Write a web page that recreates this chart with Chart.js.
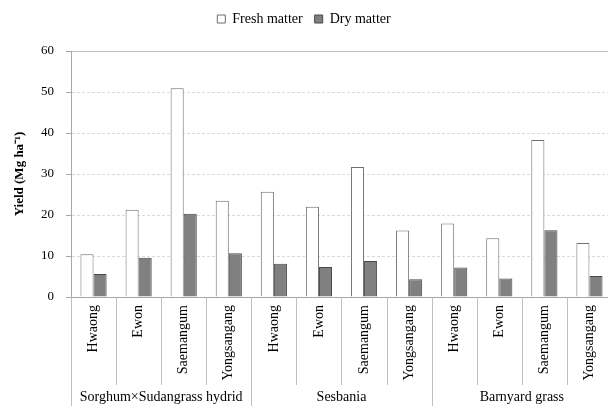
<!DOCTYPE html>
<html>
<head>
<title>Yield</title>
<script src="https://cdn.jsdelivr.net/npm/chart.js@4"></script>
<style>
  body { margin: 0; background: #fff; }
</style>
</head>
<body>
<canvas id="myChart" width="608" height="412"></canvas>
<script>
var categories = ['Hwaong', 'Ewon', 'Saemangum', 'Yongsangang',
                  'Hwaong', 'Ewon', 'Saemangum', 'Yongsangang',
                  'Hwaong', 'Ewon', 'Saemangum', 'Yongsangang'];
var groups = ['Sorghum\u00d7Sudangrass hydrid', 'Sesbania', 'Barnyard grass'];
var groupSize = 4;
var freshMatter = [10.4, 21.3, 50.9, 23.5, 25.7, 22.0, 31.7, 16.2, 17.9, 14.3, 38.3, 13.2];
var dryMatter = [5.6, 9.6, 20.3, 10.7, 8.1, 7.3, 8.8, 4.3, 7.2, 4.5, 16.3, 5.1];
var yTicks = [0, 10, 20, 30, 40, 50, 60];

var serif = 'Liberation Serif';

// extra room between legend and plot
var legendGap = {
    id: 'legendGap',
    beforeInit: function (chart) {
        var fit = chart.legend.fit;
        chart.legend.fit = function () {
            fit.call(this);
            this.height += 15;
        };
    }
};

// the plot area in the original runs a little past the right edge
var widenX = {
    id: 'widenX',
    afterLayout: function (chart) {
        var x = chart.scales.x;
        x.right = chart.width + 4;
        x.width = x.right - x.left;
        x.configure();
    }
};

// divider lines under the axis + the group names
var groupLabels = {
    id: 'groupLabels',
    afterDraw: function (chart) {
        var ctx = chart.ctx;
        var area = chart.chartArea;
        var x = chart.scales.x;
        var w = (x.right - x.left) / categories.length;
        ctx.save();
        ctx.strokeStyle = '#bfbfbf';
        ctx.lineWidth = 1;
        for (var i = 0; i < categories.length; i++) {
            var px = Math.round(x.getPixelForValue(i) - w / 2) + 0.5;
            var end = (i % groupSize === 0) ? area.bottom + 109 : area.bottom + 88;
            ctx.beginPath();
            ctx.moveTo(px, area.bottom);
            ctx.lineTo(px, end);
            ctx.stroke();
        }
        ctx.fillStyle = '#000';
        ctx.font = '14px "' + serif + '"';
        ctx.textAlign = 'center';
        ctx.textBaseline = 'middle';
        for (var g = 0; g < groups.length; g++) {
            var a = x.getPixelForValue(g * groupSize);
            var b = x.getPixelForValue(g * groupSize + groupSize - 1);
            ctx.fillText(groups[g], (a + b) / 2, area.bottom + 100);
        }
        ctx.restore();
    }
};

var ctx = document.getElementById('myChart').getContext('2d');
var chart = new Chart(ctx, {
    type: 'bar',
    data: {
        labels: categories,
        datasets: [{
            label: 'Fresh matter',
            data: freshMatter,
            backgroundColor: '#ffffff',
            borderColor: '#6e6e6e',
            borderWidth: 1
        }, {
            label: 'Dry matter',
            data: dryMatter,
            backgroundColor: '#808080',
            borderColor: '#474747',
            borderWidth: 1
        }]
    },
    options: {
        responsive: false,
        animation: false,
        devicePixelRatio: 1,
        layout: { padding: 0 },
        datasets: {
            bar: { categoryPercentage: 0.58, barPercentage: 1.0 }
        },
        plugins: {
            legend: {
                position: 'top',
                labels: {
                    font: { family: serif, size: 14 },
                    color: '#000',
                    boxWidth: 8,
                    boxHeight: 8,
                    padding: 12
                }
            },
            tooltip: { enabled: false }
        },
        scales: {
            x: {
                grid: { display: false },
                border: { display: true, color: '#a6a6a6' },
                ticks: {
                    autoSkip: false,
                    minRotation: 90,
                    maxRotation: 90,
                    padding: 0,
                    color: '#000',
                    font: { family: serif, size: 14 }
                },
                afterFit: function (s) {
                    s.height = 115;
                    s.paddingLeft = 0;
                    s.paddingRight = 0;
                }
            },
            y: {
                min: 0,
                max: 60,
                afterBuildTicks: function (s) {
                    s.ticks = yTicks.map(function (v) { return { value: v }; });
                },
                ticks: {
                    padding: 12,
                    color: '#000',
                    font: { family: serif, size: 13 }
                },
                grid: {
                    color: function (c) { return c.tick && c.tick.value === 60 ? '#bfbfbf' : '#d9d9d9'; },
                    tickColor: '#a6a6a6',
                    tickLength: 5
                },
                border: {
                    display: true,
                    color: '#a6a6a6',
                    dash: function (c) { return c.tick && c.tick.value === 60 ? [] : [3, 2]; }
                },
                title: {
                    display: true,
                    text: 'Yield (Mg ha\u207b\u00b9)',
                    color: '#000',
                    font: { family: serif, size: 13, weight: 'bold' },
                    padding: { top: 12, bottom: 0 }
                },
                afterFit: function (s) { s.width = 71; }
            }
        }
    },
    plugins: [legendGap, widenX, groupLabels]
});
</script>
</body>
</html>
